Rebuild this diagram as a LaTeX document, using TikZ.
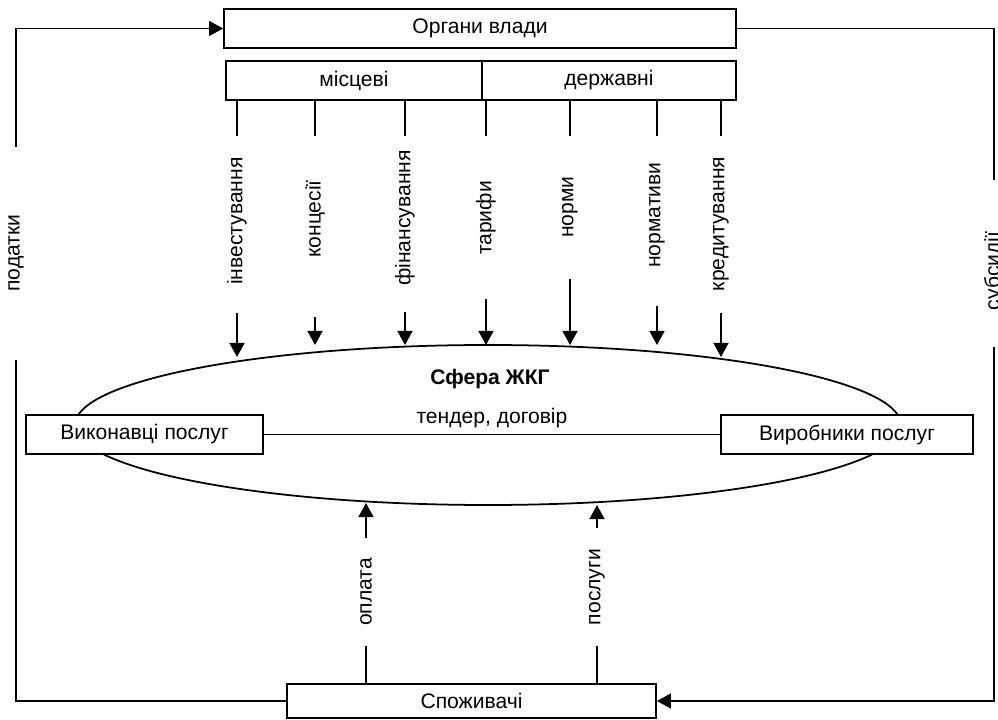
\documentclass[tikz,border=0pt]{standalone}
\usepackage{fontspec}
\setmainfont{Liberation Sans}
\usetikzlibrary{shapes,positioning,calc,arrows.meta}

\begin{document}
\begin{tikzpicture}[x=0.2mm,y=-0.2mm,>={Triangle[length=8pt,width=8.5pt]},line width=1pt,
	every node/.style={font=\fontsize{12pt}{14pt}\selectfont},
	box/.style={draw,line width=1pt,inner sep=0pt,minimum height=7.8mm},
	vlabel/.style={rotate=90,inner sep=1pt}]
	\useasboundingbox (0,0) rectangle (998,720);
	\clip (0,0) rectangle (998,720);
	% authorities
	\node[box,minimum width=102.4mm] (gov) at (480,28.5) {Органи влади};
	\node[box,minimum width=51.2mm] (local) at (354,80.5) {місцеві};
	\node[box,minimum width=50.8mm] (state) at (609,80.5) {державні};
	% sphere
	\node[draw,ellipse,line width=1pt,minimum width=165.2mm,minimum height=32mm] (sphere) at (488,425) {};
	\node[font=\fontsize{12pt}{14pt}\selectfont\bfseries] (title) at (490,379) {Сфера ЖКГ};
	\node[box,fill=white,minimum width=47.4mm] (exec) at (144.5,434.5) {Виконавці послуг};
	\node[box,fill=white,minimum width=50.4mm] (prod) at (847,434.5) {Виробники послуг};
	\draw (exec.east) -- node[above] {тендер, договір} (prod.west);
	\node[box,minimum width=73.8mm,minimum height=6.8mm] (cons) at (471.5,701) {Споживачі};
	% flows from authorities
	\foreach \x/\txt/\ly/\ya/\yb [count=\i] in {237/інвестування/221/313/357,
		315/концесії/219/317/345,405/фінансування/218/312/345,486/тарифи/218/299/345,
		570/норми/207/279/345,657/нормативи/215/306/345,721/кредитування/224/313/357}{
		\node[vlabel] (flow\i) at (\x,\ly) {\txt};
		\draw (local.south -| flow\i) -- ++(0,35);
		\draw[->] (\x,\ya) -- (\x,\yb);
	}
	% flows from consumers
	\node[vlabel] (pay) at (366,592) {оплата};
	\node[vlabel] (serv) at (597,587) {послуги};
	\draw (cons.north -| pay) -- ++(0,-37);
	\draw (cons.north -| serv) -- ++(0,-37);
	\draw[->] (366,538) -- (366,503);
	\draw[->] (597,528) -- (597,505);
	% taxes and subsidies
	\node[vlabel] (tax) at (16,253) {податки};
	\draw (cons.west) -| (16,360);
	\draw[->] (16,147) |- (gov.west);
	\node[vlabel] (subs) at (994,271) {субсидії};
	\draw (gov.east) -| (994,180);
	\draw[->] (994,347) |- (cons.east);
\end{tikzpicture}
\end{document}
